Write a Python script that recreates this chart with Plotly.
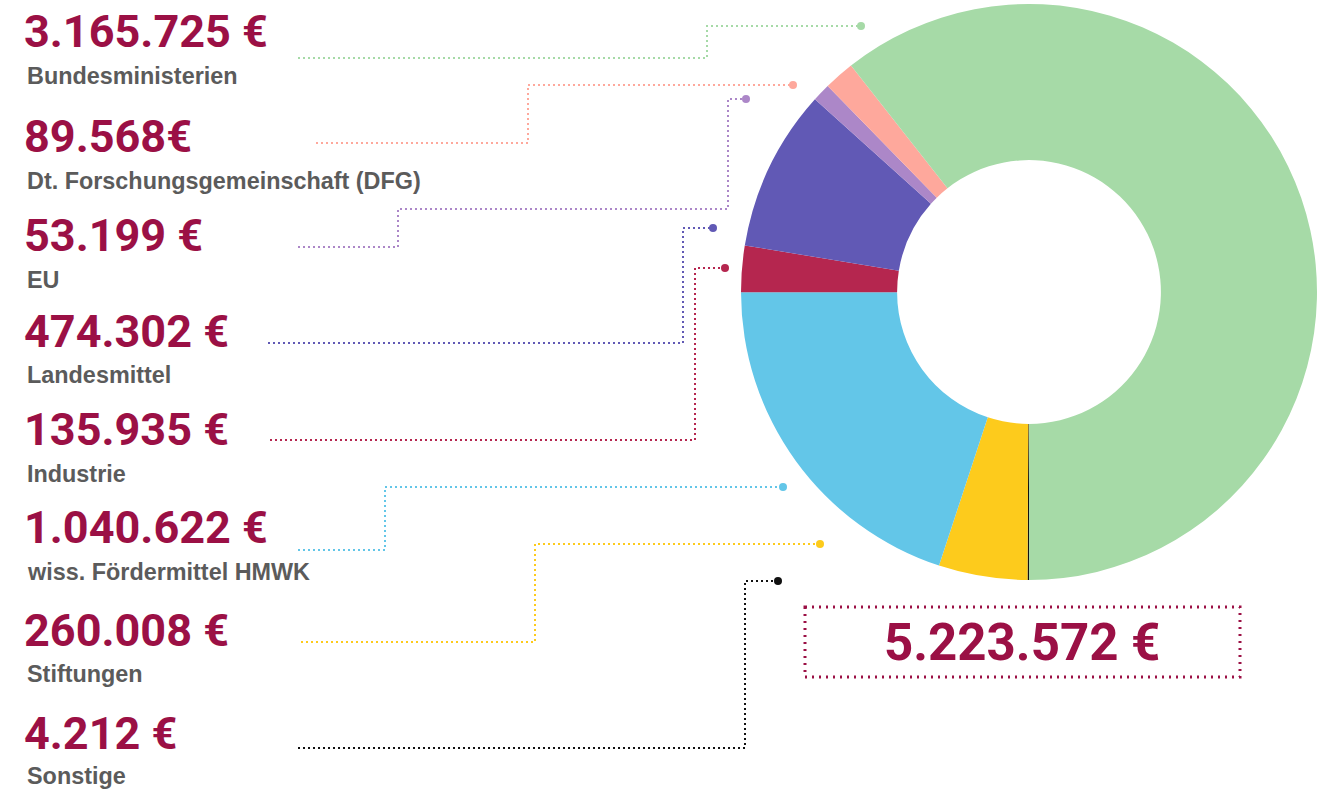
import plotly.graph_objects as go

# ---- data ----
categories = ["Bundesministerien", "Dt. Forschungsgemeinschaft (DFG)", "EU", "Landesmittel",
              "Industrie", "wiss. Fördermittel HMWK", "Stiftungen", "Sonstige"]
amounts = [3165725, 89568, 53199, 474302, 135935, 1040622, 260008, 4212]
amount_labels = ["3.165.725 €", "89.568€", "53.199 €", "474.302 €",
                 "135.935 €", "1.040.622 €", "260.008 €", "4.212 €"]
total_label = "5.223.572 €"
colors = ["#a6daa7", "#fea89c", "#ac87c8", "#6159b5", "#b5264f", "#63c6e8", "#fdcb1c", "#111111"]

# ---- layout constants (screen pixels) ----
W, H = 1336, 793
CRIMSON = "#9b1045"
GREY = "#5b5b5b"
value_y = [31, 136, 235, 331, 429, 527, 630, 733]
label_y = [76, 181, 280, 375, 474, 572, 674, 776]
connectors = [
    [(298, 58), (707, 58), (707, 26), (861, 26)],
    [(316, 143), (528, 143), (528, 85), (793, 85)],
    [(298, 247), (398, 247), (398, 209), (728, 209), (728, 99), (746, 99)],
    [(268, 343), (683, 343), (683, 228), (713, 228)],
    [(270, 440), (695, 440), (695, 268), (725, 268)],
    [(298, 550), (385, 550), (385, 487), (783, 487)],
    [(301, 642), (535, 642), (535, 544), (820, 544)],
    [(298, 748), (745, 748), (745, 581), (778, 581)],
]
cx, cy, R = 1029, 292, 288

fig = go.Figure()

# donut: clockwise from 6 o'clock, starting with the last category
fig.add_trace(go.Pie(
    labels=categories[::-1], values=amounts[::-1],
    marker=dict(colors=colors[::-1], line=dict(width=0)),
    sort=False, direction="clockwise", rotation=180, hole=0.458,
    textinfo="none", showlegend=False,
    domain=dict(x=[(cx - R) / W, (cx + R) / W],
                y=[1 - (cy + R) / H, 1 - (cy - R) / H]),
))

for pts, col in zip(connectors, colors):
    xs = [p[0] for p in pts]
    ys = [p[1] for p in pts]
    fig.add_trace(go.Scatter(x=xs, y=ys, mode="lines",
                             line=dict(color=col, width=2, dash="2px,3px"),
                             hoverinfo="skip", showlegend=False))
    fig.add_trace(go.Scatter(x=[xs[-1]], y=[ys[-1]], mode="markers",
                             marker=dict(color=col, size=8), hoverinfo="skip", showlegend=False))

annotations = []
for txt, lab, vy, ly in zip(amount_labels, categories, value_y, label_y):
    annotations.append(dict(x=22, y=vy, xref="x", yref="y", text=txt, showarrow=False,
                            xanchor="left", yanchor="middle",
                            font=dict(family="Roboto", size=45, color=CRIMSON, weight="bold")))
    annotations.append(dict(x=25, y=ly, xref="x", yref="y", text=lab, showarrow=False,
                            xanchor="left", yanchor="middle",
                            font=dict(family="Liberation Sans", size=23.4, color=GREY, weight="bold")))
annotations.append(dict(x=1022, y=642, xref="x", yref="y", text=total_label, showarrow=False,
                        xanchor="center", yanchor="middle",
                        font=dict(family="Roboto", size=51, color=CRIMSON, weight="bold")))

shapes = [dict(type="rect", xref="x", yref="y", x0=805, y0=607, x1=1240, y1=677,
               line=dict(color=CRIMSON, width=3, dash="2px,5px"))]

fig.update_layout(
    width=W, height=H, margin=dict(l=0, r=0, t=0, b=0),
    paper_bgcolor="white", plot_bgcolor="rgba(0,0,0,0)",
    xaxis=dict(range=[0, W], visible=False, fixedrange=True),
    yaxis=dict(range=[H, 0], visible=False, fixedrange=True),
    annotations=annotations, shapes=shapes, showlegend=False,
)

fig.write_html("out.html", config={"displayModeBar": False},
               post_script="document.body.style.margin='0px';")
